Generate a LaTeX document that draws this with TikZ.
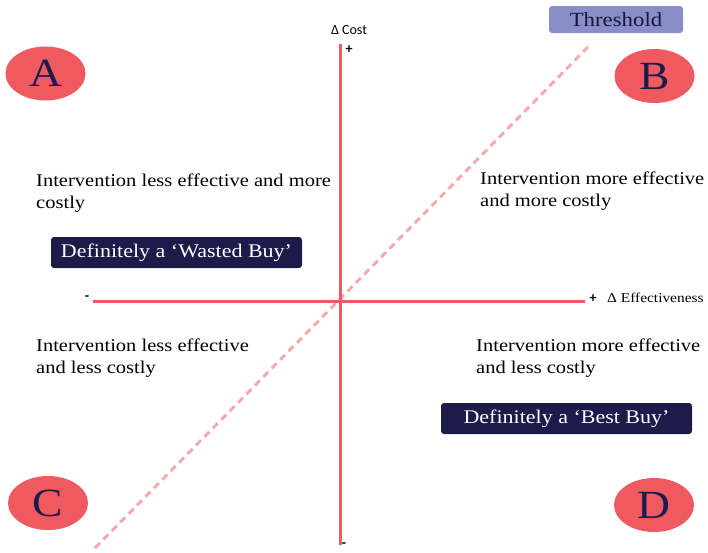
\documentclass[tikz,border=0pt]{standalone}
\usepackage{fontspec}
\setmainfont[FakeStretch=1.14]{Liberation Serif}
\newfontfamily\calib{Carlito}
\usetikzlibrary{shapes.geometric}
\definecolor{axred}{HTML}{EE5A63}
\definecolor{elred}{HTML}{EF5960}
\definecolor{navy}{HTML}{1B1C4A}
\definecolor{thr}{HTML}{8A8EC8}
\definecolor{diag}{HTML}{F4AAB0}
\begin{document}
\begin{tikzpicture}[x=1pt,y=-1pt,
  quad/.style={anchor=north west,inner sep=0pt,align=left,font=\fontsize{18}{22}\selectfont},
  letter/.style={ellipse,fill=elred,text=navy,minimum width=80pt,minimum height=54pt,inner sep=0pt,font=\fontsize{40}{40}\selectfont},
  verdict/.style={fill=navy,text=white,rounded corners=3pt,inner sep=0pt,font=\fontsize{19.3}{19.3}\selectfont},
  axis/.style={axred,line width=3pt},
  sign/.style={inner sep=0pt,font=\calib\bfseries\fontsize{14}{14}\selectfont}]
\useasboundingbox (0,0) rectangle (708,552);
% diagonal threshold line
\coordinate (d1) at (95,548);
\coordinate (d2) at (588,47);
\draw[diag,line width=3pt,dash pattern=on 7pt off 5pt] (d1) -- (d2);
% axes
\coordinate (xl) at (93,301);
\coordinate (xr) at (585,301);
\coordinate (yt) at (340,44);
\coordinate (yb) at (340,545);
\draw[axis] (xl) -- (xr);
\draw[axis] (yt) -- (yb);
% axis labels
\node[inner sep=0pt,font=\calib\fontsize{14}{14}\selectfont] (cost) at (349,30) {Δ Cost};
\node[sign] (ptop) at (349,50) {+};
\node[sign] (pbot) at (344,545) {-};
\node[sign] (pleft) at (87,298) {-};
\node[sign] (pright) at (593,299) {+};
\node[inner sep=0pt,anchor=base west,font=\fontsize{13.5}{13.5}\selectfont] (eff) at (607,302) {Δ Effectiveness};
% threshold
\node[fill=thr,text=navy!80!black,rounded corners=3pt,minimum width=134pt,minimum height=27pt,inner sep=0pt,font=\fontsize{20}{20}\selectfont] (thr) at (616,19.5) {Threshold};
% quadrant letters
\node[letter] (A) at (45.5,73.5) {A};
\node[letter] (B) at (654.5,76) {B};
\node[letter] (C) at (48,503) {C};
\node[letter] (D) at (654,505) {D};
% quadrant texts
\node[quad] (tA) at (36,174) {Intervention less effective and more\\costly};
\node[quad] (tB) at (480,172) {Intervention more effective\\and more costly};
\node[quad] (tC) at (36,339) {Intervention less effective\\and less costly};
\node[quad] (tD) at (476,339) {Intervention more effective\\and less costly};
% verdict boxes
\node[verdict,minimum width=251pt,minimum height=31pt] (wb) at (176.5,252.5) {Definitely a ‘Wasted Buy’};
\node[verdict,minimum width=251pt,minimum height=31pt] (bb) at (566.5,418.5) {Definitely a ‘Best Buy’};
\end{tikzpicture}
\end{document}
